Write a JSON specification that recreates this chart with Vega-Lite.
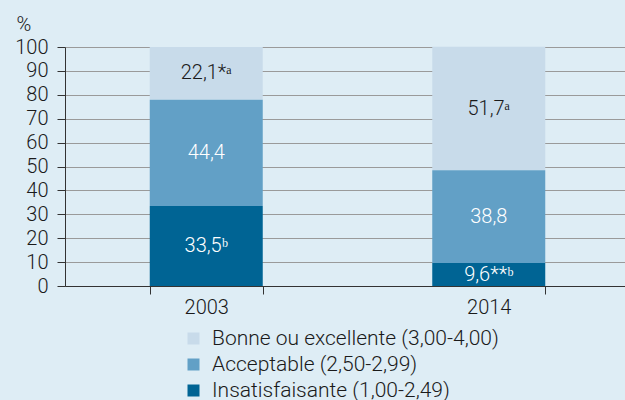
{
  "$schema": "https://vega.github.io/schema/vega-lite/v6.json",
  "width": 565,
  "height": 239,
  "autosize": {"type": "none"},
  "padding": {"left": 65, "top": 47, "right": 0, "bottom": 114},
  "background": "#deedf5",
  "config": {
    "view": {"stroke": null},
    "font": "Roboto",
    "axis": {"labelFont": "Roboto", "labelFontWeight": 300, "labelColor": "#1a1a1a", "labelFontSize": 20, "domainColor": "#333333", "tickColor": "#333333"}
  },
  "data": {
    "values": [
      {"year": "2003", "cat": "Bonne ou excellente (3,00-4,00)", "order": 3, "value": 22.1, "label": "22,1*ᵃ", "lc": "dark"},
      {"year": "2003", "cat": "Acceptable (2,50-2,99)", "order": 2, "value": 44.4, "label": "44,4", "lc": "light"},
      {"year": "2003", "cat": "Insatisfaisante (1,00-2,49)", "order": 1, "value": 33.5, "label": "33,5ᵇ", "lc": "light"},
      {"year": "2014", "cat": "Bonne ou excellente (3,00-4,00)", "order": 3, "value": 51.7, "label": "51,7ᵃ", "lc": "dark"},
      {"year": "2014", "cat": "Acceptable (2,50-2,99)", "order": 2, "value": 38.8, "label": "38,8", "lc": "light"},
      {"year": "2014", "cat": "Insatisfaisante (1,00-2,49)", "order": 1, "value": 9.6, "label": "9,6**ᵇ", "lc": "light"}
    ]
  },
  "encoding": {
    "x": {
      "field": "year", "type": "nominal",
      "scale": {"paddingInner": 0.6, "paddingOuter": 0.3},
      "axis": {"title": null, "labelAngle": 0, "tickBand": "extent", "tickSize": 8, "labelPadding": 3, "domainWidth": 1, "grid": false}
    },
    "y": {
      "field": "value", "type": "quantitative", "stack": "zero",
      "scale": {"domain": [0, 100]},
      "axis": {
        "values": [0, 10, 20, 30, 40, 50, 60, 70, 80, 90, 100],
        "title": "%", "titleAngle": 0, "titleFont": "Roboto", "titleFontSize": 20, "titleFontWeight": 300, "titleColor": "#1a1a1a",
        "titleAlign": "left", "titleBaseline": "alphabetic", "titleX": -49, "titleY": -17,
        "grid": true, "gridColor": "#9a9a9a", "gridWidth": 1,
        "tickSize": 8, "labelPadding": 9, "labelBaseline": "middle"
      }
    },
    "order": {"field": "order", "type": "quantitative"}
  },
  "layer": [
    {
      "mark": {"type": "bar"},
      "encoding": {
        "color": {
          "field": "cat", "type": "nominal",
          "scale": {
            "domain": ["Bonne ou excellente (3,00-4,00)", "Acceptable (2,50-2,99)", "Insatisfaisante (1,00-2,49)"],
            "range": ["#c8dbea", "#62a0c6", "#006494"]
          },
          "legend": {
            "title": null, "orient": "none", "legendX": 118, "legendY": 281,
            "symbolType": "square", "symbolSize": 144, "symbolStrokeWidth": 0,
            "labelFontSize": 21, "labelFontWeight": 300, "labelColor": "#1a1a1a", "labelFont": "Roboto",
            "rowPadding": 4, "labelOffset": 8, "labelLimit": 400
          }
        }
      }
    },
    {
      "mark": {"type": "text", "fontSize": 20, "font": "Roboto", "fontWeight": 300},
      "encoding": {
        "y": {"field": "value", "type": "quantitative", "stack": "zero", "bandPosition": 0.5},
        "text": {"field": "label"},
        "color": {
          "field": "lc", "type": "nominal",
          "scale": {"domain": ["dark", "light"], "range": ["#1a1a1a", "#ffffff"]},
          "legend": null
        }
      }
    }
  ],
  "resolve": {"scale": {"color": "independent"}}
}
